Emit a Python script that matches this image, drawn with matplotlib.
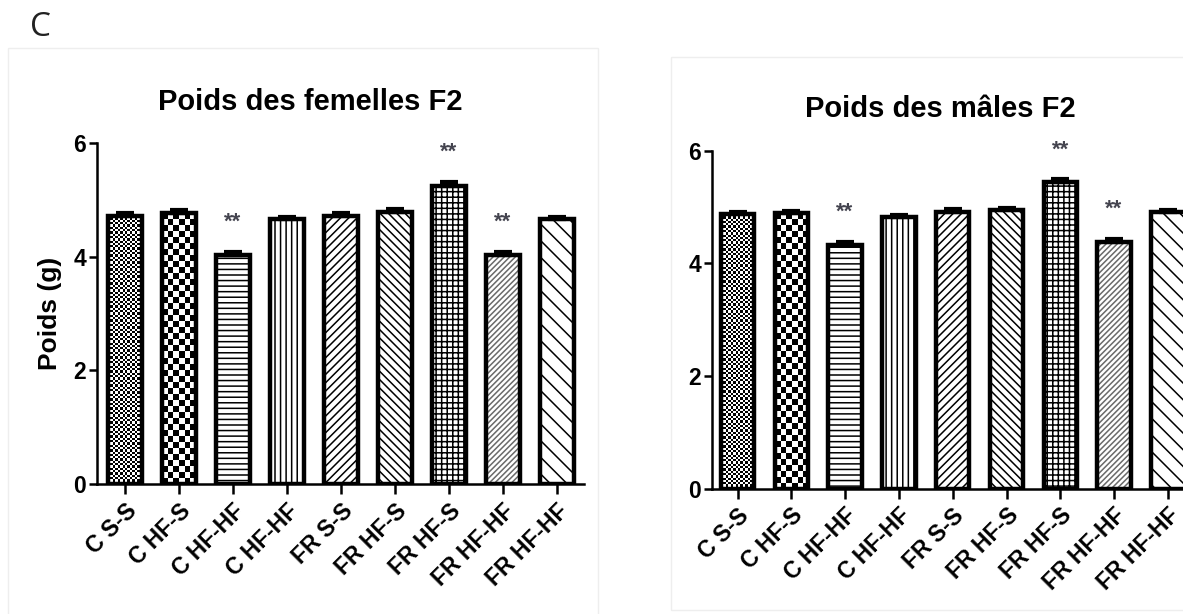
import numpy as np
import matplotlib
matplotlib.use("Agg")
import matplotlib.pyplot as plt
from matplotlib.patches import Rectangle

plt.rcParams['font.family'] = ['Liberation Sans', 'DejaVu Sans']
plt.rcParams['hatch.linewidth'] = 1.1

# data
groups = ["C S-S", "C HF-S", "C HF-HF", "C HF-HF", "FR S-S",
          "FR HF-S", "FR HF-S", "FR HF-HF", "FR HF-HF"]
femelles = [4.72, 4.76, 4.03, 4.67, 4.72, 4.78, 5.25, 4.03, 4.67]
femelles_err = [0.04, 0.06, 0.05, 0.03, 0.04, 0.05, 0.06, 0.05, 0.03]
femelles_sig = ["", "", "**", "", "", "", "**", "**", ""]
males = [4.88, 4.89, 4.32, 4.82, 4.91, 4.95, 5.44, 4.38, 4.91]
males_err = [0.04, 0.04, 0.06, 0.04, 0.05, 0.04, 0.05, 0.06, 0.04]
males_sig = ["", "", "**", "", "", "", "**", "**", ""]
yticks = [0, 2, 4, 6]

# hatch per bar (None -> checkerboard drawn as image)
HATCHES = [None, None, "---", "|||", "////", "\\\\\\\\", "+++", "//////", "\\\\"]
HATCH_COLORS = ["black"] * 7 + ["#6a6a6a", "black"]
CHECKER = {0: (14, 2.3), 1: (6, 6.0)}   # cells across, cell size px
PX_PER_UNIT = 56.5


def checker(nx, ny):
    ii, jj = np.indices((ny, nx))
    return ((ii + jj) % 2).astype(float)


def draw_panel(ax, vals, errs, sig, title, xlim, title_x):
    x = np.arange(len(vals))
    w = 0.62
    fills = ax.bar(x, vals, w, color="white", edgecolor=HATCH_COLORS,
                   linewidth=0, zorder=1)
    for i, b in enumerate(fills):
        if HATCHES[i] is not None:
            b.set_hatch(HATCHES[i])
        else:
            nx, cell = CHECKER[i]
            ny = int(round(b.get_height() * PX_PER_UNIT / cell))
            x0 = b.get_x()
            im = ax.imshow(checker(nx, ny), extent=(x0, x0 + w, 0, b.get_height()),
                           cmap="gray", interpolation="nearest", aspect="auto",
                           zorder=1.5)
            im.set_clip_path(b)
    ax.bar(x, vals, w, color="none", edgecolor="black", linewidth=3.2, zorder=2)
    ax.errorbar(x, vals, yerr=[np.zeros(len(errs)), errs], fmt="none",
                ecolor="black", elinewidth=3, capsize=6.5, capthick=3,
                zorder=2.5)
    for i, s in enumerate(sig):
        if s:
            ax.text(x[i], vals[i] + errs[i] + 0.52, s, ha="center", va="center",
                    fontsize=16, fontweight="bold", color="#44444f")
    ax.set_xlim(*xlim)
    ax.set_ylim(0, 6)
    ax.set_yticks(yticks)
    ax.set_xticks(x)
    ax.set_xticklabels(groups, rotation=45, ha="right", rotation_mode="anchor",
                       fontsize=16.5, fontweight="bold")
    for lab in ax.get_yticklabels():
        lab.set_fontsize(16.5)
        lab.set_fontweight("bold")
    for s in ["top", "right"]:
        ax.spines[s].set_visible(False)
    for s in ["left", "bottom"]:
        ax.spines[s].set_linewidth(1.8)
    ax.tick_params(axis="y", length=6, width=1.8, pad=2)
    ax.tick_params(axis="x", length=7, width=1.8, pad=4)
    ax.set_title(title, fontsize=21, fontweight="bold", pad=24, x=title_x)


fig = plt.figure(figsize=(11.83, 6.14), dpi=100)

# faint frames of the two pasted panels
fig.add_artist(Rectangle((8 / 1183, -0.01), 590 / 1183, 1 - 48 / 614 + 0.01,
                         transform=fig.transFigure, fill=False,
                         edgecolor="#eeeeee", linewidth=1))
fig.add_artist(Rectangle((671 / 1183, 4 / 614), 0.5, 1 - 61 / 614,
                         transform=fig.transFigure, fill=False,
                         edgecolor="#eeeeee", linewidth=1))

ax1 = fig.add_axes([97 / 1183, 130 / 614, 487 / 1183, 341 / 614])
draw_panel(ax1, femelles, femelles_err, femelles_sig,
           "Poids des femelles F2", (-0.52, 8.5), 0.437)
ax1.set_ylabel("Poids (g)", fontsize=19, fontweight="bold", labelpad=8)

ax2 = fig.add_axes([712 / 1183, 125.3 / 614, 482.8 / 1183, 338 / 614])
draw_panel(ax2, males, males_err, males_sig,
           "Poids des mâles F2", (-0.474, 8.5), 0.472)

fig.text(30 / 1183, 1 - 27 / 614, "C", fontsize=24, family="Open Sans",
         color="#222222", va="center", ha="left")

fig.savefig("out.png", dpi=100)
